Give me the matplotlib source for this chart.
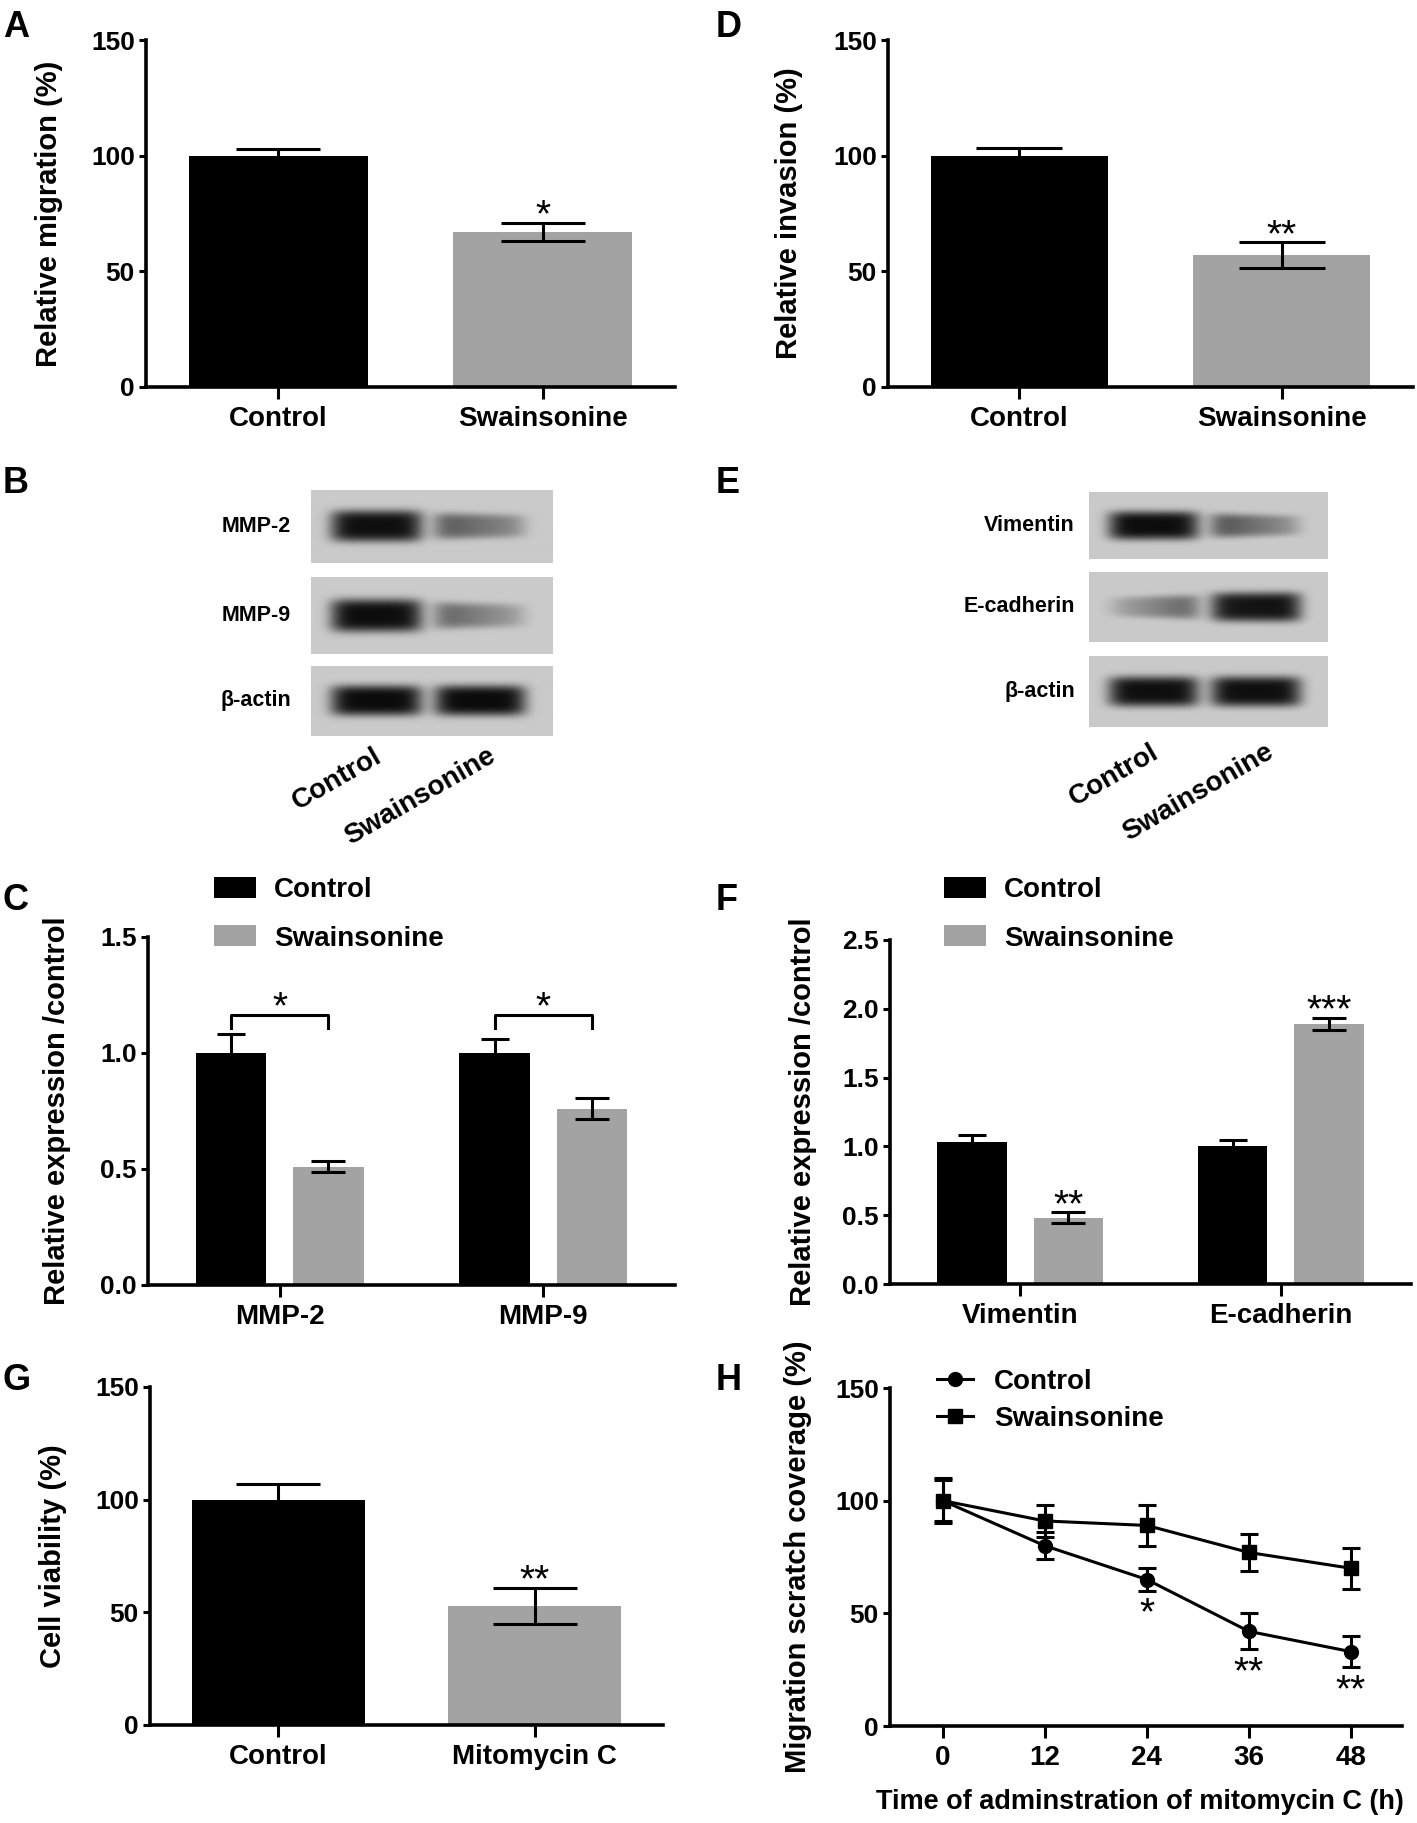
import numpy as np
import matplotlib.pyplot as plt

# values
bar_groups = ['Control', 'Swainsonine']
migration = [100, 67]
migration_err = [3, 4]
migration_sig = ['', '*']

invasion = [100, 57]
invasion_err = [3.5, 5.5]
invasion_sig = ['', '**']

mmp_names = ['MMP-2', 'MMP-9']
mmp_ctrl = [1.0, 1.0]
mmp_ctrl_err = [0.08, 0.06]
mmp_swa = [0.51, 0.76]
mmp_swa_err = [0.025, 0.045]
mmp_sig = ['*', '*']

emt_names = ['Vimentin', 'E-cadherin']
emt_ctrl = [1.03, 1.0]
emt_ctrl_err = [0.05, 0.05]
emt_swa = [0.48, 1.89]
emt_swa_err = [0.04, 0.045]
emt_sig = ['**', '***']

viab_groups = ['Control', 'Mitomycin C']
viability = [100, 53]
viability_err = [7, 8]
viability_sig = ['', '**']

hours = [0, 12, 24, 36, 48]
cover_ctrl = [100, 80, 65, 42, 33]
cover_ctrl_err = [10, 6, 5, 8, 7]
cover_swa = [100, 91, 89, 77, 70]
cover_swa_err = [9, 7, 9, 8, 9]
cover_sig = ['', '', '*', '**', '**']

# western blot band darkness (left edge, right edge) for each lane
lanes = ['Control', 'Swainsonine']
blot_b_rows = ['MMP-2', 'MMP-9', 'β-actin']
blot_b_ctrl = [(0.95, 0.95), (0.97, 0.95), (0.97, 0.97)]
blot_b_swa = [(0.6, 0.3), (0.55, 0.2), (0.97, 0.97)]
blot_e_rows = ['Vimentin', 'E-cadherin', 'β-actin']
blot_e_ctrl = [(0.97, 0.95), (0.15, 0.55), (0.95, 0.95)]
blot_e_swa = [(0.65, 0.25), (0.9, 0.95), (0.95, 0.95)]

W, H = 1417, 1823
plt.rcParams['font.family'] = ['Liberation Sans', 'DejaVu Sans']
plt.rcParams['font.weight'] = 'bold'
plt.rcParams['axes.labelweight'] = 'bold'
fig = plt.figure(figsize=(W / 100, H / 100), dpi=100)
GREY = '#a3a3a3'


def add_ax(l, t, r, b):
    return fig.add_axes([l / W, 1 - b / H, (r - l) / W, (b - t) / H])


def style(ax, ylim, ticks, ticklabels, ylabel, label_x, l, r):
    ax.spines[['top', 'right']].set_visible(False)
    for s in ('left', 'bottom'):
        ax.spines[s].set_linewidth(2.6)
        ax.spines[s].set_capstyle('projecting')
    ax.set_ylim(*ylim)
    ax.set_yticks(ticks, ticklabels)
    ax.tick_params(axis='y', length=5, width=2.2, pad=3, labelsize=19)
    ax.tick_params(axis='x', length=8.6, width=2.2, pad=5, labelsize=20)
    ax.set_ylabel(ylabel, fontsize=21, fontweight='bold', va='center')
    ax.yaxis.set_label_coords(-(l - label_x) / (r - l), 0.5)


def star(ax, x, y, s, dy):
    ax.annotate(s, (x, y), xytext=(0, dy), textcoords='offset points',
                ha='center', va='center', fontsize=28, fontweight='normal')


def two_bars(ax, vals, errs, sig, names, capsize):
    x = np.arange(len(vals))
    ax.bar(x, vals, width=0.675, color=['k', GREY])
    ax.errorbar(x, vals, yerr=errs, fmt='none', ecolor='k', elinewidth=2.2,
                capsize=capsize, capthick=2.2)
    for xi, v, e, s in zip(x, vals, errs, sig):
        if s:
            star(ax, xi, v + e, s, 4.3)
    ax.set_xlim(-0.5, 1.5)
    ax.set_xticks(x, names)


def grouped(ax, ctrl, ctrl_err, swa, swa_err, names):
    x = np.arange(len(names))
    off, w = 0.185, 0.268
    ax.bar(x - off, ctrl, w, color='k', label='Control')
    ax.bar(x + off, swa, w, color=GREY, label='Swainsonine')
    ax.errorbar(x - off, ctrl, yerr=ctrl_err, fmt='none', ecolor='k',
                elinewidth=2.2, capsize=10, capthick=2.2)
    ax.errorbar(x + off, swa, yerr=swa_err, fmt='none', ecolor='k',
                elinewidth=2.2, capsize=12, capthick=2.2)
    ax.set_xlim(-0.5, 1.5)
    ax.set_xticks(x, names)
    return x, off


def legend(ax, left, top, spacing, hl, hh, pad):
    ax.legend(loc='upper left', bbox_to_anchor=(left / W, 1 - top / H),
              bbox_transform=fig.transFigure, frameon=False, fontsize=20,
              handlelength=hl, handleheight=hh, handletextpad=pad,
              labelspacing=spacing, borderpad=0, borderaxespad=0)


def blot(l, t, r, b, dark_ctrl, dark_swa):
    nw, nh = r - l, b - t
    xx, yy = np.meshgrid(np.linspace(0, 1, nw), np.linspace(0, 1, nh))
    img = np.full((nh, nw), 0.79)
    for c, (dl, dr) in zip([0.27, 0.70], [dark_ctrl, dark_swa]):
        hw = 0.19
        frac = np.clip((xx - (c - hw)) / (2 * hw), 0, 1)
        d = dl + (dr - dl) * frac
        sy = 0.13 + 0.09 * d
        prof = np.exp(-((xx - c) / hw) ** 6) * np.exp(-((yy - 0.5) / sy) ** 4)
        img -= 0.77 * d * prof
    ax = add_ax(l, t, r, b)
    ax.imshow(img, cmap='gray', vmin=0, vmax=1, aspect='auto',
              interpolation='bilinear')
    ax.axis('off')


# ---- A: migration
ax = add_ax(146, 40, 675, 387)
style(ax, (0, 150), [0, 50, 100, 150], ['0', '50', '100', '150'],
      'Relative migration (%)', 49, 146, 675)
two_bars(ax, migration, migration_err, migration_sig, bar_groups, 30)

# ---- D: invasion
ax = add_ax(888, 40, 1413, 387)
style(ax, (0, 150), [0, 50, 100, 150], ['0', '50', '100', '150'],
      'Relative invasion (%)', 789, 888, 1413)
two_bars(ax, invasion, invasion_err, invasion_sig, bar_groups, 31)

# ---- B / E: western blots
strips_b = [(490, 563), (577, 654), (666, 736)]
for (t, b), name, dc, ds in zip(strips_b, blot_b_rows, blot_b_ctrl, blot_b_swa):
    blot(311, t, 553, b, dc, ds)
    fig.text(291 / W, 1 - (t + b) / 2 / H, name, ha='right', va='center', fontsize=15.5)
for lane, xr in zip(lanes, [386, 500]):
    fig.text(xr / W, 1 - 743 / H, lane, rotation=30, ha='right', va='top', fontsize=20)

strips_e = [(492, 559), (572, 642), (656, 727)]
for (t, b), name, dc, ds in zip(strips_e, blot_e_rows, blot_e_ctrl, blot_e_swa):
    blot(1089, t, 1328, b, dc, ds)
    fig.text(1075 / W, 1 - (t + b) / 2 / H, name, ha='right', va='center', fontsize=15.5)
for lane, xr in zip(lanes, [1163, 1278]):
    fig.text(xr / W, 1 - 739 / H, lane, rotation=30, ha='right', va='top', fontsize=20)

# ---- C: MMP expression
ax = add_ax(148, 937, 675, 1285)
style(ax, (0, 1.5), [0, 0.5, 1.0, 1.5], ['0.0', '0.5', '1.0', '1.5'],
      'Relative expression /control', 57, 148, 675)
x, off = grouped(ax, mmp_ctrl, mmp_ctrl_err, mmp_swa, mmp_swa_err, mmp_names)
top = max(np.add(mmp_ctrl, mmp_ctrl_err)) + 0.085
for xi, s in zip(x, mmp_sig):
    ax.plot([xi - off, xi - off, xi + off, xi + off],
            [top - 0.056, top, top, top - 0.056], color='k', lw=2.2)
    star(ax, xi, top, s, 4.3)
legend(ax, 214, 877, 0.79, 1.5, 0.8, 0.65)

# ---- F: EMT expression
ax = add_ax(890, 940, 1411, 1284)
style(ax, (0, 2.5), [0, 0.5, 1.0, 1.5, 2.0, 2.5],
      ['0.0', '0.5', '1.0', '1.5', '2.0', '2.5'],
      'Relative expression /control', 803, 890, 1411)
x, off = grouped(ax, emt_ctrl, emt_ctrl_err, emt_swa, emt_swa_err, emt_names)
for xi, v, e, s in zip(x, emt_swa, emt_swa_err, emt_sig):
    star(ax, xi + off, v + e, s, 4.3)
legend(ax, 944, 877, 0.79, 1.5, 0.8, 0.65)

# ---- G: viability
ax = add_ax(150, 1387, 663, 1725)
style(ax, (0, 150), [0, 50, 100, 150], ['0', '50', '100', '150'],
      'Cell viability (%)', 53, 150, 663)
two_bars(ax, viability, viability_err, viability_sig, viab_groups, 30)

# ---- H: scratch coverage
ax = add_ax(890, 1388, 1402, 1726)
style(ax, (0, 150), [0, 50, 100, 150], ['0', '50', '100', '150'],
      'Migration scratch coverage (%)', 798, 890, 1402)
for vals, errs, mk, lab in [(cover_ctrl, cover_ctrl_err, 'o', 'Control'),
                            (cover_swa, cover_swa_err, 's', 'Swainsonine')]:
    ax.errorbar(hours, vals, yerr=errs, fmt='none', ecolor='k', elinewidth=2.2,
                capsize=6.5, capthick=2.2)
    ax.plot(hours, vals, '-', marker=mk, color='k', lw=2.2, ms=10, label=lab)
for h, v, e, s in zip(hours, cover_ctrl, cover_ctrl_err, cover_sig):
    if s:
        star(ax, h, v - e, s, -17)
ax.set_xlim(-6.2, 54)
ax.set_xticks(hours, [str(h) for h in hours])
ax.set_xlabel('Time of adminstration of mitomycin C (h)', fontsize=19.5, fontweight='bold')
ax.xaxis.set_label_coords((1140 - 890) / 512, -0.186)
legend(ax, 937, 1369, 0.40, 1.3, 0.7, 0.75)

# panel letters
for letter, lx, by in [('A', 3, 37), ('B', 3, 493), ('C', 3, 910), ('D', 716, 37),
                       ('E', 716, 493), ('F', 716, 910), ('G', 3, 1390), ('H', 716, 1390)]:
    fig.text(lx / W, 1 - by / H, letter, fontsize=26, ha='left', va='baseline')

fig.savefig('out.png', dpi=100, facecolor='white')
